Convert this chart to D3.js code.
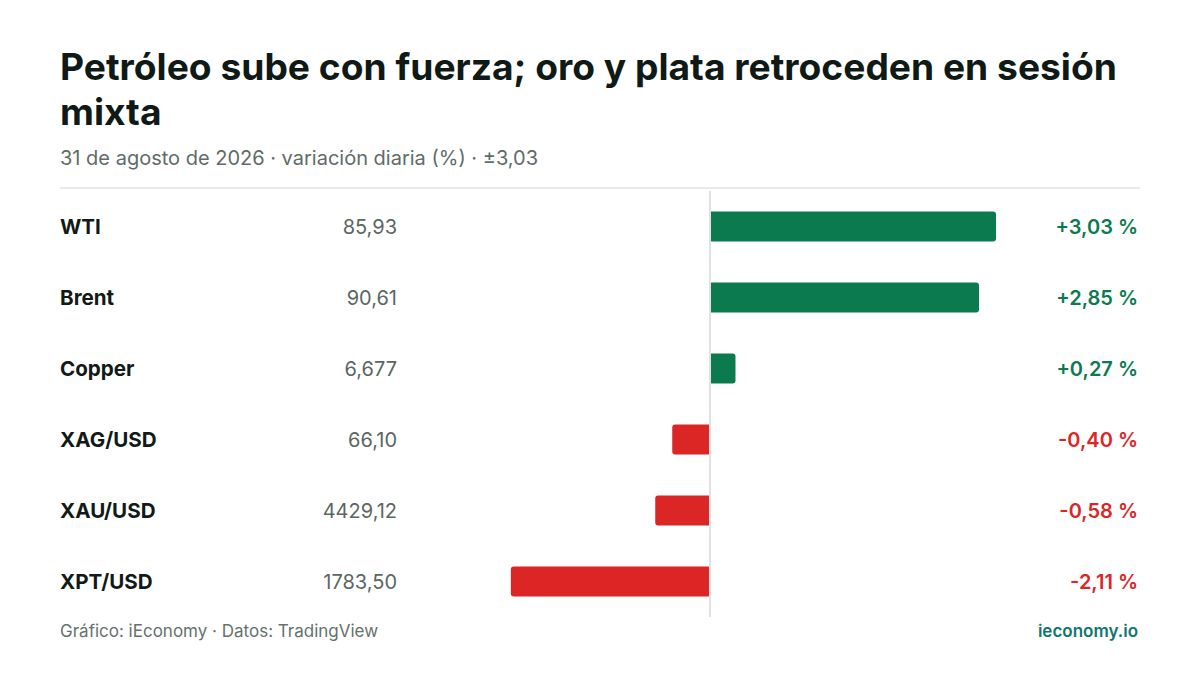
<!DOCTYPE html>
<html lang="es">
<head>
<meta charset="utf-8">
<title>Petróleo sube con fuerza</title>
<script src="https://d3js.org/d3.v7.min.js"></script>
<style>
  html, body { margin: 0; padding: 0; background: #fff; }
  svg { display: block; font-family: Inter, "Noto Sans", sans-serif; }
</style>
</head>
<body>
<svg id="chart" width="1200" height="675"></svg>
<script>
// data
var names   = ['WTI', 'Brent', 'Copper', 'XAG/USD', 'XAU/USD', 'XPT/USD'];
var prices  = ['85,93', '90,61', '6,677', '66,10', '4429,12', '1783,50'];
var changes = [3.03, 2.85, 0.27, -0.40, -0.58, -2.11];

var title = 'Petróleo sube con fuerza; oro y plata retroceden en sesión mixta';
var subtitle = '31 de agosto de 2026 · variación diaria (%) · ±3,03';
var source = 'Gráfico: iEconomy · Datos: TradingView';
var brand = 'ieconomy.io';

var left = 60, right = 1140;
var green = '#0b7a4f', red = '#dc2626';

var svg = d3.select('#chart');

// title, wrapped by hand
var t = svg.append('text')
    .attr('x', left).attr('y', 80)
    .attr('font-size', 37.2).attr('font-weight', 700)
    .attr('fill', '#0f1a17');
var words = title.split(' '), line = [];
var tspan = t.append('tspan').attr('x', left).attr('dy', 0);
words.forEach(function(w) {
    line.push(w);
    tspan.text(line.join(' '));
    if (tspan.node().getComputedTextLength() > right - left && line.length > 1) {
        line.pop();
        tspan.text(line.join(' '));
        line = [w];
        tspan = t.append('tspan').attr('x', left).attr('dy', 45).text(w);
    }
});

svg.append('text')
    .attr('x', left).attr('y', 165)
    .attr('font-size', 20).attr('fill', '#5f6b68')
    .text(subtitle);

svg.append('line')
    .attr('x1', left).attr('x2', right)
    .attr('y1', 188).attr('y2', 188)
    .attr('stroke', '#e0e3e2').attr('stroke-width', 1.5);

// scales
var y = d3.scaleBand()
    .domain(names)
    .range([191, 617])
    .paddingInner(0.58)
    .paddingOuter(0.29);

var maxAbs = d3.max(changes, function(d) { return Math.abs(d); });
var x = d3.scaleLinear()
    .domain([-maxAbs, maxAbs])
    .range([424, 996]);

var rows = names.map(function(n, i) {
    return { name: n, price: prices[i], change: changes[i] };
});

// bars: rounded on the outer end only
function barPath(d) {
    var x0 = x(0), x1 = x(d.change);
    var top = y(d.name), h = y.bandwidth(), r = 3;
    var s = d.change >= 0 ? 1 : -1;
    x0 += s;
    return 'M' + x0 + ',' + top + 'H' + (x1 - s * r) +
        'Q' + x1 + ',' + top + ' ' + x1 + ',' + (top + r) +
        'V' + (top + h - r) +
        'Q' + x1 + ',' + (top + h) + ' ' + (x1 - s * r) + ',' + (top + h) +
        'H' + x0 + 'Z';
}

svg.append('g').selectAll('path')
    .data(rows)
    .enter().append('path')
    .attr('d', barPath)
    .attr('fill', function(d) { return d.change >= 0 ? green : red; });

// zero line
svg.append('line')
    .attr('x1', x(0)).attr('x2', x(0))
    .attr('y1', 191).attr('y2', 617)
    .attr('stroke', '#dfe2e1').attr('stroke-width', 2);

function mid(d) { return y(d.name) + y.bandwidth() / 2; }

var labels = svg.append('g');
labels.selectAll('text.name')
    .data(rows).enter().append('text')
    .attr('class', 'name')
    .attr('x', left).attr('y', mid)
    .attr('dy', '0.37em')
    .attr('font-size', 20.6).attr('font-weight', 700)
    .attr('fill', '#111a17')
    .text(function(d) { return d.name; });

labels.selectAll('text.price')
    .data(rows).enter().append('text')
    .attr('class', 'price')
    .attr('x', 397).attr('y', mid)
    .attr('dy', '0.36em')
    .attr('text-anchor', 'end')
    .attr('font-size', 20)
    .attr('fill', '#5b6663')
    .text(function(d) { return d.price; });

var fmt = function(v) {
    return (v > 0 ? '+' : '') + v.toFixed(2).replace('.', ',') + ' %';
};
labels.selectAll('text.chg')
    .data(rows).enter().append('text')
    .attr('class', 'chg')
    .attr('x', 1138).attr('y', mid)
    .attr('dy', '0.36em')
    .attr('text-anchor', 'end')
    .attr('font-size', 20).attr('font-weight', 600)
    .attr('fill', function(d) { return d.change >= 0 ? green : red; })
    .text(function(d) { return fmt(d.change); });

// footer
svg.append('text')
    .attr('x', left).attr('y', 637)
    .attr('font-size', 17).attr('fill', '#66716e')
    .text(source);

svg.append('text')
    .attr('x', 1138).attr('y', 637)
    .attr('text-anchor', 'end')
    .attr('font-size', 17).attr('font-weight', 600)
    .attr('fill', '#0f766e')
    .text(brand);
</script>
</body>
</html>
